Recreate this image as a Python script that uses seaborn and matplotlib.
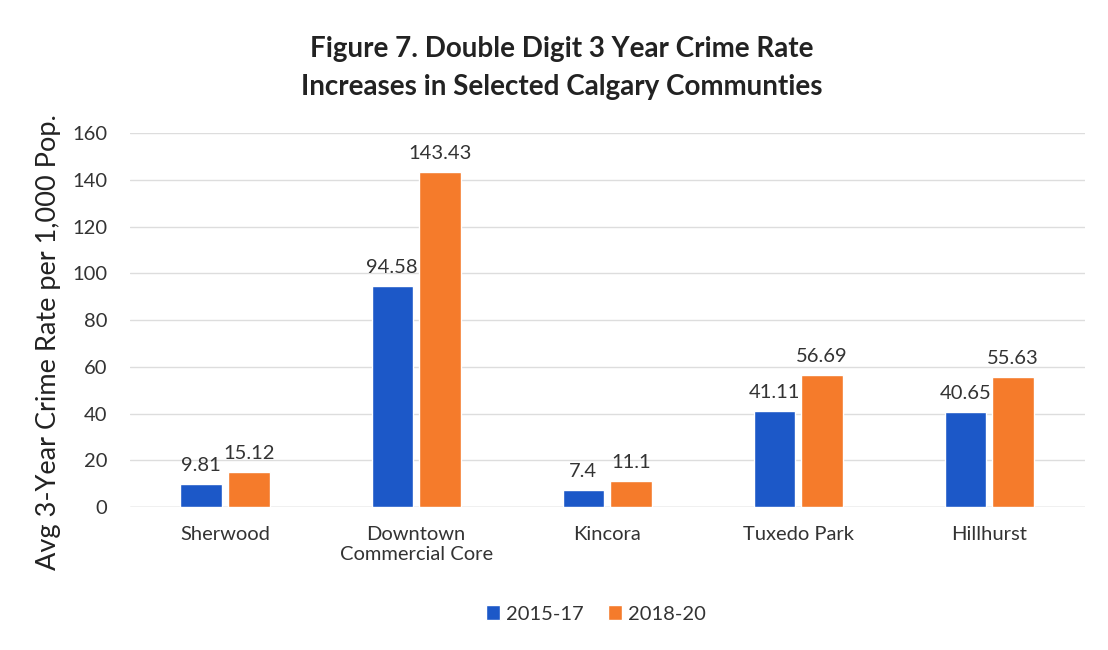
import matplotlib
matplotlib.use("Agg")
import matplotlib.pyplot as plt
import seaborn as sns
import pandas as pd

communities = ["Sherwood", "Downtown\nCommercial Core", "Kincora", "Tuxedo Park", "Hillhurst"]
periods = ["2015-17", "2018-20"]
rate_2015_17 = [9.81, 94.58, 7.4, 41.11, 40.65]
rate_2018_20 = [15.12, 143.43, 11.1, 56.69, 55.63]
yticks = [0, 20, 40, 60, 80, 100, 120, 140, 160]

df = pd.DataFrame({
    "Community": communities * 2,
    "Period": [periods[0]] * len(communities) + [periods[1]] * len(communities),
    "Rate": rate_2015_17 + rate_2018_20,
})

sns.set_theme(style="white")
plt.rcParams["font.family"] = ["Lato", "DejaVu Sans"]

fig = plt.figure(figsize=(11.08, 6.5), dpi=100)
ax = fig.add_axes([0.117, 0.22, 0.862, 0.575])

palette = {"2015-17": "#1c58c8", "2018-20": "#f57b2b"}
sns.barplot(data=df, x="Community", y="Rate", hue="Period", palette=palette,
            order=communities, hue_order=periods, width=0.5, gap=0.13,
            saturation=1, ax=ax, legend=True)

for container in ax.containers:
    labels = [f"{v:g}" for v in container.datavalues]
    ax.bar_label(container, labels=labels, padding=7, fontsize=14.5, color="#333333")

ax.set_ylim(0, 160)
ax.set_xlim(-0.5, len(communities) - 0.5)
ax.set_yticks(yticks)
ax.yaxis.grid(True, color="#dddddd", linewidth=1)
ax.set_axisbelow(True)
for s in ax.spines.values():
    s.set_visible(False)
ax.axhline(0, color="#d0d0d0", linewidth=1, zorder=0)
ax.tick_params(axis="both", length=0, labelsize=14.5, colors="#333333")
ax.tick_params(axis="x", pad=14)
ax.tick_params(axis="y", pad=16)
ax.set_xlabel("")
ax.set_ylabel("Avg 3-Year Crime Rate per 1,000 Pop.", fontsize=19.5, color="#222222")
ax.yaxis.set_label_coords(-0.072, 0.44)

fig.suptitle("Figure 7. Double Digit 3 Year Crime Rate\nIncreases in Selected Calgary Communties",
             x=0.507, y=0.945, fontsize=20, fontweight="bold", color="#222222", linespacing=1.6)

leg = ax.legend(loc="upper center", bbox_to_anchor=(0.5 - 0.012, -0.215), ncol=2, frameon=False,
                fontsize=14.5, handlelength=0.7, handleheight=0.7, handletextpad=0.3,
                columnspacing=1.2)
for t in leg.get_texts():
    t.set_color("#333333")

fig.savefig("out.png", dpi=100, facecolor="white")
